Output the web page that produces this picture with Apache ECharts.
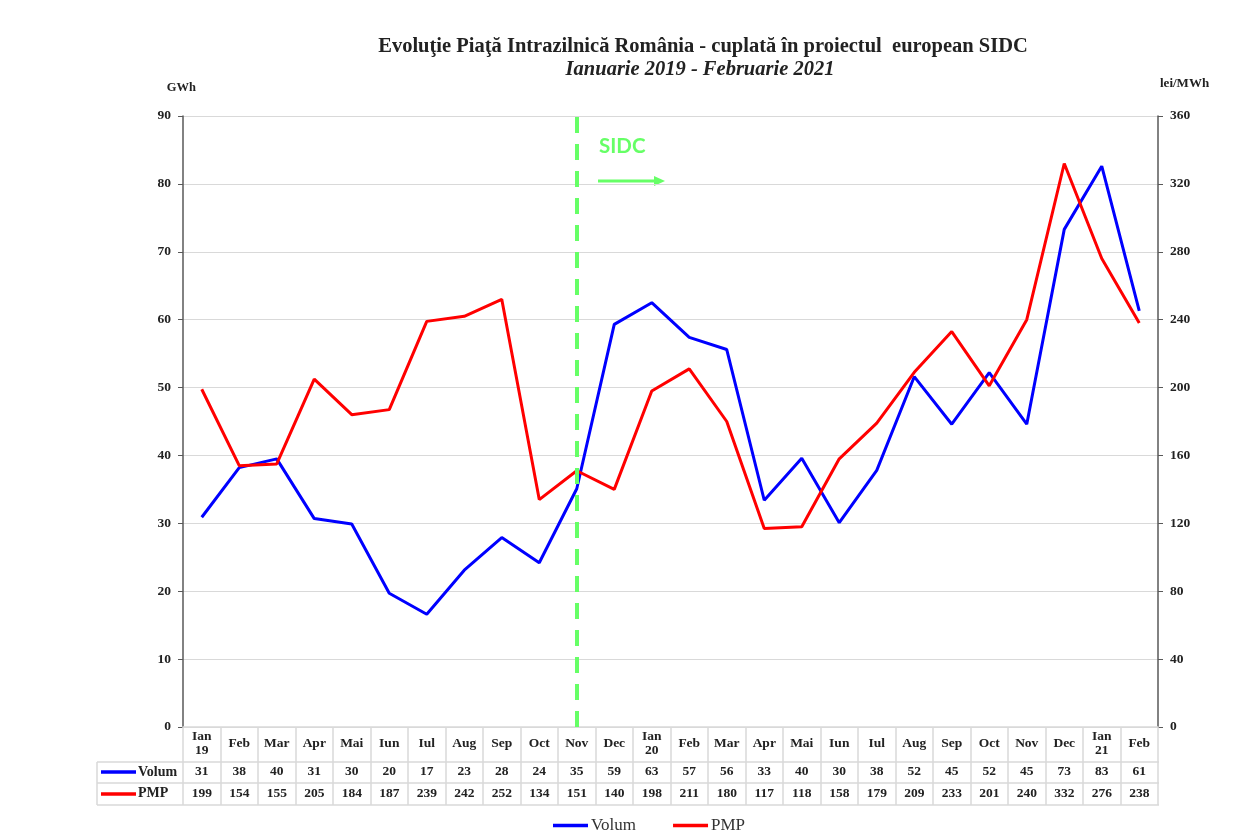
<!DOCTYPE html>
<html>
<head>
<meta charset="utf-8">
<script src="https://cdn.jsdelivr.net/npm/echarts@6/dist/echarts.min.js"></script>
<style>
  html, body { margin: 0; padding: 0; background: #fff; }
  #main { width: 1260px; height: 831px; }
</style>
</head>
<body>
<div id="main"></div>
<script>
// date
var luni = ['Ian\n19', 'Feb', 'Mar', 'Apr', 'Mai', 'Iun', 'Iul', 'Aug', 'Sep', 'Oct', 'Nov', 'Dec',
  'Ian\n20', 'Feb', 'Mar', 'Apr', 'Mai', 'Iun', 'Iul', 'Aug', 'Sep', 'Oct', 'Nov', 'Dec',
  'Ian\n21', 'Feb'];
var volum = [30.9, 38.2, 39.5, 30.7, 29.9, 19.7, 16.6, 23.1, 27.9, 24.2, 35.1, 59.3,
  62.5, 57.4, 55.6, 33.4, 39.6, 30.1, 37.8, 51.6, 44.6, 52.2, 44.6, 73.3, 82.6, 61.3];
var pmp = [199, 154, 155, 205, 184, 187, 239, 242, 252, 134, 151, 140,
  198, 211, 180, 117, 118, 158, 179, 209, 233, 201, 240, 332, 276, 238];
var startSIDC = 10; // Nov 2019

var serif = '"Liberation Serif", "Times New Roman", serif';
var gri = '#d9d9d9';
var text = '#222';

// pozitia graficului
var L = 183, R = 1158, T = 116, B = 727;
var rand1 = 762, rand2 = 783, rand3 = 805, stTabel = 97;

var myChart = echarts.init(document.getElementById('main'));

var valAxisLabel = { fontFamily: serif, fontWeight: 'bold', fontSize: 13.5, color: text };

var option = {
  backgroundColor: '#fff',
  animation: false,
  title: [{
    text: 'Evoluţie Piaţă Intrazilnică România - cuplată în proiectul  european SIDC',
    left: 698, top: 31, textAlign: 'center',
    textStyle: { fontFamily: serif, fontWeight: 'bold', fontSize: 20.5, color: text }
  }, {
    text: 'Ianuarie 2019 - Februarie 2021',
    left: 695, top: 55, textAlign: 'center',
    textStyle: { fontFamily: serif, fontWeight: 'bold', fontStyle: 'italic', fontSize: 20.5, color: text }
  }],
  legend: {
    left: 548, top: 812,
    icon: 'rect', itemWidth: 35, itemHeight: 3.5, itemGap: 37,
    textStyle: { fontFamily: serif, fontSize: 17, color: '#333', padding: [0, 0, 0, -2] },
    data: ['Volum', 'PMP']
  },
  grid: { left: L, right: 1260 - R, top: T, bottom: 831 - B },
  xAxis: [{
    type: 'category', data: luni, boundaryGap: true,
    axisLine: { lineStyle: { color: gri, width: 1.5 } },
    axisTick: { show: true, interval: 0, length: rand3 - B, lineStyle: { color: gri, width: 1.5 } },
    axisLabel: { interval: 0, margin: 17, verticalAlign: 'middle', lineHeight: 14,
      fontFamily: serif, fontWeight: 'bold', fontSize: 13.5, color: text }
  }, {
    type: 'category', data: volum.map(function (v) { return Math.round(v); }),
    position: 'bottom', offset: rand1 - B,
    axisLine: { show: false }, axisTick: { show: false },
    axisLabel: { interval: 0, margin: 10, verticalAlign: 'middle',
      fontFamily: serif, fontWeight: 'bold', fontSize: 13.5, color: text }
  }, {
    type: 'category', data: pmp.map(function (v) { return String(v); }),
    position: 'bottom', offset: rand2 - B,
    axisLine: { show: false }, axisTick: { show: false },
    axisLabel: { interval: 0, margin: 11, verticalAlign: 'middle',
      fontFamily: serif, fontWeight: 'bold', fontSize: 13.5, color: text }
  }],
  yAxis: [{
    type: 'value', min: 0, max: 90, interval: 10,
    name: 'GWh', nameLocation: 'end', nameGap: 22,
    nameTextStyle: { fontFamily: serif, fontWeight: 'bold', fontSize: 12.5, color: text, align: 'right', padding: [0, -13, 0, 0] },
    axisLine: { show: true, lineStyle: { color: '#595959', width: 1.5 } },
    axisTick: { show: true, length: 5, lineStyle: { color: '#595959' } },
    axisLabel: Object.assign({ margin: 12 }, valAxisLabel),
    splitLine: { lineStyle: { color: gri, width: 1.2 } }
  }, {
    type: 'value', min: 0, max: 360, interval: 40, position: 'right',
    name: 'lei/MWh', nameLocation: 'end', nameGap: 26,
    nameTextStyle: { fontFamily: serif, fontWeight: 'bold', fontSize: 13, color: text, align: 'left', padding: [0, 0, 0, 2] },
    axisLine: { show: true, lineStyle: { color: '#595959', width: 1.5 } },
    axisTick: { show: true, length: 5, lineStyle: { color: '#595959' } },
    axisLabel: Object.assign({ margin: 12 }, valAxisLabel),
    splitLine: { show: false }
  }],
  series: [{
    name: 'Volum', type: 'line', data: volum, yAxisIndex: 0,
    showSymbol: false, symbol: 'none', z: 3,
    lineStyle: { color: '#0000ff', width: 3 }, itemStyle: { color: '#0000ff' },
    markLine: {
      silent: true, symbol: 'none', label: { show: false },
      lineStyle: { color: '#66ff66', width: 4, type: [16, 11] },
      data: [{ xAxis: startSIDC }]
    }
  }, {
    name: 'PMP', type: 'line', data: pmp, yAxisIndex: 1,
    showSymbol: false, symbol: 'none', z: 3,
    lineStyle: { color: '#ff0000', width: 3 }, itemStyle: { color: '#ff0000' }
  }],
  graphic: [
    // liniile tabelului
    { type: 'line', shape: { x1: stTabel, y1: rand1, x2: R + 1, y2: rand1 }, style: { stroke: gri, lineWidth: 1.5 } },
    { type: 'line', shape: { x1: stTabel, y1: rand2, x2: R + 1, y2: rand2 }, style: { stroke: gri, lineWidth: 1.5 } },
    { type: 'line', shape: { x1: stTabel, y1: rand3, x2: R + 1, y2: rand3 }, style: { stroke: gri, lineWidth: 1.5 } },
    { type: 'line', shape: { x1: stTabel, y1: rand1, x2: stTabel, y2: rand3 }, style: { stroke: gri, lineWidth: 1.5 } },
    // cheile legendei din tabel
    { type: 'line', shape: { x1: 101, y1: 772, x2: 136, y2: 772 }, style: { stroke: '#0000ff', lineWidth: 3.5 } },
    { type: 'text', x: 138, y: 772, style: { text: 'Volum', fontFamily: serif, fontWeight: 'bold', fontSize: 14, fill: text, verticalAlign: 'middle' } },
    { type: 'line', shape: { x1: 101, y1: 794, x2: 136, y2: 794 }, style: { stroke: '#ff0000', lineWidth: 3.5 } },
    { type: 'text', x: 138, y: 793, style: { text: 'PMP', fontFamily: serif, fontWeight: 'bold', fontSize: 14, fill: text, verticalAlign: 'middle' } },
    // eticheta SIDC
    { type: 'text', x: 599, y: 146, style: { text: 'SIDC', fontFamily: 'Lato, "Open Sans", sans-serif', fontWeight: 'bold', fontSize: 20.5, fill: '#66ff66', verticalAlign: 'middle' } },
    { type: 'line', shape: { x1: 598, y1: 181, x2: 656, y2: 181 }, style: { stroke: '#66ff66', lineWidth: 3 } },
    { type: 'polygon', shape: { points: [[654, 176], [665, 181], [654, 186]] }, style: { fill: '#66ff66' } }
  ]
};

myChart.setOption(option);
</script>
</body>
</html>
